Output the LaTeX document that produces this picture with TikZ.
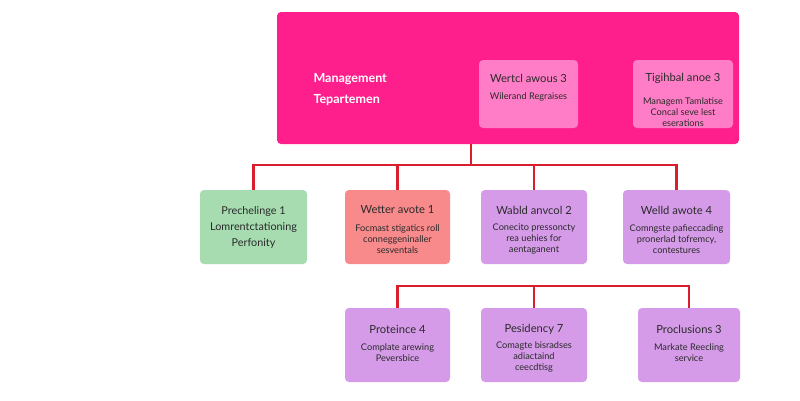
\documentclass[tikz,border=0pt]{standalone}
\usepackage{fontspec}
\setmainfont{Lato}
\definecolor{bigpink}{HTML}{FF1F8C}
\definecolor{lightpink}{HTML}{FF7DC6}
\definecolor{linered}{HTML}{D91F2B}
\definecolor{mint}{HTML}{A6DCB0}
\definecolor{salmon}{HTML}{F98A8B}
\definecolor{lilac}{HTML}{D59BE8}
\definecolor{txt}{HTML}{2A2A2A}
\begin{document}
\begin{tikzpicture}[x=1pt,y=-1pt,
  box/.style={rounded corners=4pt, draw=none, inner sep=0pt, align=center, text=txt},
  conn/.style={draw=linered, line width=2.4pt},
  ttl/.style={font=\fontsize{11.2}{14}\selectfont, text=txt},
  sub/.style={font=\fontsize{9.2}{11}\selectfont, text=txt, align=center}
]
\useasboundingbox[fill=white] (0,0) rectangle (800,400);
% big box
\node[box, fill=bigpink, minimum width=462pt, minimum height=132pt] (mgmt) at (508,78) {};
\node[anchor=west, text=white, align=left, font=\bfseries\fontsize{12.5}{21}\selectfont] (mtxt) at (310,90) {Management\\Tepartemen};
\node[box, fill=lightpink, minimum width=99pt, minimum height=68pt] (in1) at (528.5,94) {};
\node[ttl] (in1t) at (528.5,78) {Wertcl awous 3};
\node[sub] (in1s) at (528.5,97) {Wilerand Regraises};
\node[box, fill=lightpink, minimum width=100pt, minimum height=68pt] (in2) at (683,94) {};
\node[ttl] (in2t) at (683,78) {Tigihbal anoe 3};
\node[sub] (in2s) at (683,112) {Managem Tamlatise\\Concal seve lest\\eserations};
% row 2
\node[box, fill=mint, minimum width=107pt, minimum height=74pt, font=\fontsize{10.8}{16}\selectfont] (b1) at (253.5,227) {Prechelinge 1\\Lomrentctationing\\Perfonity};
\node[box, fill=salmon, minimum width=105pt, minimum height=74pt] (b2) at (397.5,227) {};
\node[ttl] (b2t) at (397.5,210) {Wetter avote 1};
\node[sub] (b2s) at (397.5,239) {Focmast stigatics roll\\conneggeninaller\\sesventals};
\node[box, fill=lilac, minimum width=106pt, minimum height=74pt] (b3) at (534,227) {};
\node[ttl] (b3t) at (534,210) {Wabld anvcol 2};
\node[sub] (b3s) at (534,239) {Conecito pressoncty\\rea uehies for\\aentaganent};
\node[box, fill=lilac, minimum width=107pt, minimum height=74pt] (b4) at (676.5,227) {};
\node[ttl] (b4t) at (676.5,210) {Welld awote 4};
\node[sub] (b4s) at (676.5,239) {Comngste pafieccading\\pronerlad tofremcy,\\contestures};
% row 3
\node[box, fill=lilac, minimum width=105pt, minimum height=74pt] (c1) at (397.5,345) {};
\node[ttl] (c1t) at (397.5,329) {Proteince 4};
\node[sub] (c1s) at (397.5,353) {Complate arewing\\Peversbice};
\node[box, fill=lilac, minimum width=106pt, minimum height=74pt] (c2) at (534,345) {};
\node[ttl] (c2t) at (534,329) {Pesidency 7};
\node[sub] (c2s) at (534,357) {Comagte bisradses\\adiactaind\\ceecdtisg};
\node[box, fill=lilac, minimum width=102pt, minimum height=74pt] (c3) at (689,345) {};
\node[ttl] (c3t) at (689,329) {Proclusions 3};
\node[sub] (c3s) at (689,353) {Markate Reecling\\service};
% connectors
\coordinate (j1) at (471,165);
\coordinate (j2) at (534,286);
\draw[conn] (mgmt.south -| j1) -- (j1);
\draw[conn] (b1.north) |- (j1) -| (b4.north);
\draw[conn] (b2.north) -- (b2.north |- j1);
\draw[conn] (b3.north) -- (b3.north |- j1);
\draw[conn] (c1.north) |- (j2) -| (c3.north);
\draw[conn] (c2.north) -- (j2);
\end{tikzpicture}
\end{document}
